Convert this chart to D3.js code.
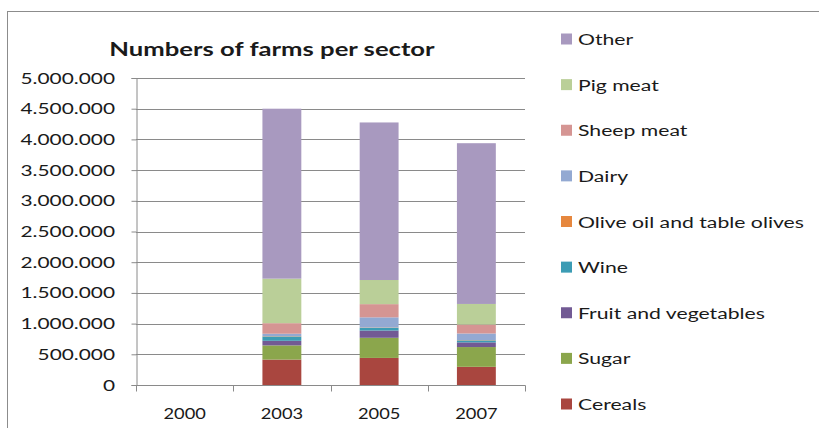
<!DOCTYPE html>
<html>
<head>
<meta charset="utf-8">
<script src="https://cdn.jsdelivr.net/npm/d3@7"></script>
<style>
  html, body { margin: 0; padding: 0; background: #fff; }
  svg { display: block; }
  text { font-family: Lato, "Open Sans", sans-serif; fill: #1a1a1a; }
</style>
</head>
<body>
<svg id="chart" width="819" height="428"></svg>
<script>
// Years on the category axis
const years = ["2000", "2003", "2005", "2007"];

// Sectors, bottom of the stack first
const sectors = ["Cereals", "Sugar", "Fruit and vegetables", "Wine",
  "Olive oil and table olives", "Dairy", "Sheep meat", "Pig meat", "Other"];

// Number of farms per sector, one value per year (2000 has no data)
const cereals   = [0, 414000, 441000, 296000];
const sugar     = [0, 231000, 328000, 322000];
const fruitVeg  = [0,  75000, 118000,  76000];
const wine      = [0,  70000,  45000,  32000];
const oliveOil  = [0,   5000,   5000,   5000];
const dairy     = [0,  40000, 165000, 108000];
const sheepMeat = [0, 172000, 215000, 145000];
const pigMeat   = [0, 725000, 393000, 336000];
const other     = [0, 2768000, 2566000, 2618000];

const yTicks = [0, 500000, 1000000, 1500000, 2000000, 2500000,
  3000000, 3500000, 4000000, 4500000, 5000000];

const sectorColors = ["#a9463f", "#8ba64c", "#725a94", "#3c9cb4",
  "#e6873e", "#93a9d2", "#d59593", "#bacf98", "#a899bf"];

const seriesValues = [cereals, sugar, fruitVeg, wine, oliveOil, dairy, sheepMeat, pigMeat, other];

const rows = years.map((y, i) => {
  const r = { year: y };
  sectors.forEach((s, k) => { r[s] = seriesValues[k][i]; });
  return r;
});

const svg = d3.select("#chart");
const stretch = 1.3; // horizontal stretch applied to the text

// Thousands separator as a dot
const fmt = d3.formatLocale({ decimal: ",", thousands: ".", grouping: [3], currency: ["", ""] }).format(",d");

// Outer chart frame
svg.append("rect")
  .attr("x", 7.5).attr("y", 11.5).attr("width", 840).attr("height", 440)
  .attr("fill", "none").attr("stroke", "#8c8c8c").attr("stroke-width", 1);

const plot = { left: 136, right: 525, top: 78, bottom: 385 };

const x = d3.scaleBand().domain(years).range([plot.left, plot.right]).paddingInner(0).paddingOuter(0);
const y = d3.scaleLinear().domain([0, 5000000]).range([plot.bottom, plot.top]);

// Gridlines
svg.append("g").selectAll("line").data(yTicks.filter(d => d > 0)).join("line")
  .attr("x1", plot.left).attr("x2", plot.right)
  .attr("y1", d => Math.round(y(d)) + 0.5).attr("y2", d => Math.round(y(d)) + 0.5)
  .attr("stroke", "#8a8a8a").attr("stroke-width", 1);

// Stacked bars
const stack = d3.stack().keys(sectors)(rows);
const barW = x.bandwidth() * 0.4;
svg.append("g").selectAll("g").data(stack).join("g")
  .attr("fill", (d, i) => sectorColors[i])
  .selectAll("rect").data(d => d).join("rect")
  .attr("x", d => x(d.data.year) + (x.bandwidth() - barW) / 2)
  .attr("width", barW)
  .attr("y", d => y(d[1]))
  .attr("height", d => y(d[0]) - y(d[1]));

// Y axis
const yAxis = svg.append("g").attr("transform", `translate(${plot.left + 0.5},0)`)
  .call(d3.axisLeft(y).tickValues(yTicks).tickSize(5).tickFormat(""));
yAxis.select(".domain").attr("stroke", "#8a8a8a");
yAxis.selectAll(".tick line").attr("stroke", "#8a8a8a");

svg.append("g").selectAll("g").data(yTicks).join("g")
  .attr("transform", d => `translate(${plot.left - 21},${y(d) + 5.5}) scale(1.39,1)`)
  .append("text").attr("text-anchor", "end").style("font-size", "15px")
  .text(d => fmt(d));

// X axis with ticks at category boundaries
const xAxisG = svg.append("g").attr("transform", `translate(0,${plot.bottom + 0.5})`);
xAxisG.append("line").attr("x1", plot.left).attr("x2", plot.right + 0.5)
  .attr("stroke", "#8a8a8a");
const bounds = years.map(d => x(d)).concat([x(years[years.length - 1]) + x.bandwidth()]);
xAxisG.selectAll("line.tk").data(bounds).join("line").attr("class", "tk")
  .attr("x1", d => Math.round(d) + 0.5).attr("x2", d => Math.round(d) + 0.5)
  .attr("y1", 0).attr("y2", 6).attr("stroke", "#8a8a8a");

svg.append("g").selectAll("g").data(years).join("g")
  .attr("transform", d => `translate(${x(d) + x.bandwidth() / 2},${plot.bottom + 34}) scale(1.22,1)`)
  .append("text").attr("text-anchor", "middle").style("font-size", "15px")
  .text(d => d);

// Title
svg.append("g").attr("transform", `translate(272,56) scale(1.35,1)`)
  .append("text").attr("text-anchor", "middle")
  .style("font-size", "19px").style("font-weight", "bold")
  .text("Numbers of farms per sector");

// Legend, top entry is the top of the stack
const legendOrder = sectors.slice().reverse();
const legendY = d3.scalePoint().domain(legendOrder).range([39, 404]);
const leg = svg.append("g").selectAll("g").data(legendOrder).join("g")
  .attr("transform", d => `translate(561,${legendY(d)})`);
leg.append("rect").attr("x", 0).attr("y", -5.5).attr("width", 11).attr("height", 11)
  .attr("fill", d => sectorColors[sectors.indexOf(d)]);
leg.append("g").attr("transform", `translate(17,6) scale(${stretch * 1.02},1)`)
  .append("text").style("font-size", "16px").text(d => d);
</script>
</body>
</html>
